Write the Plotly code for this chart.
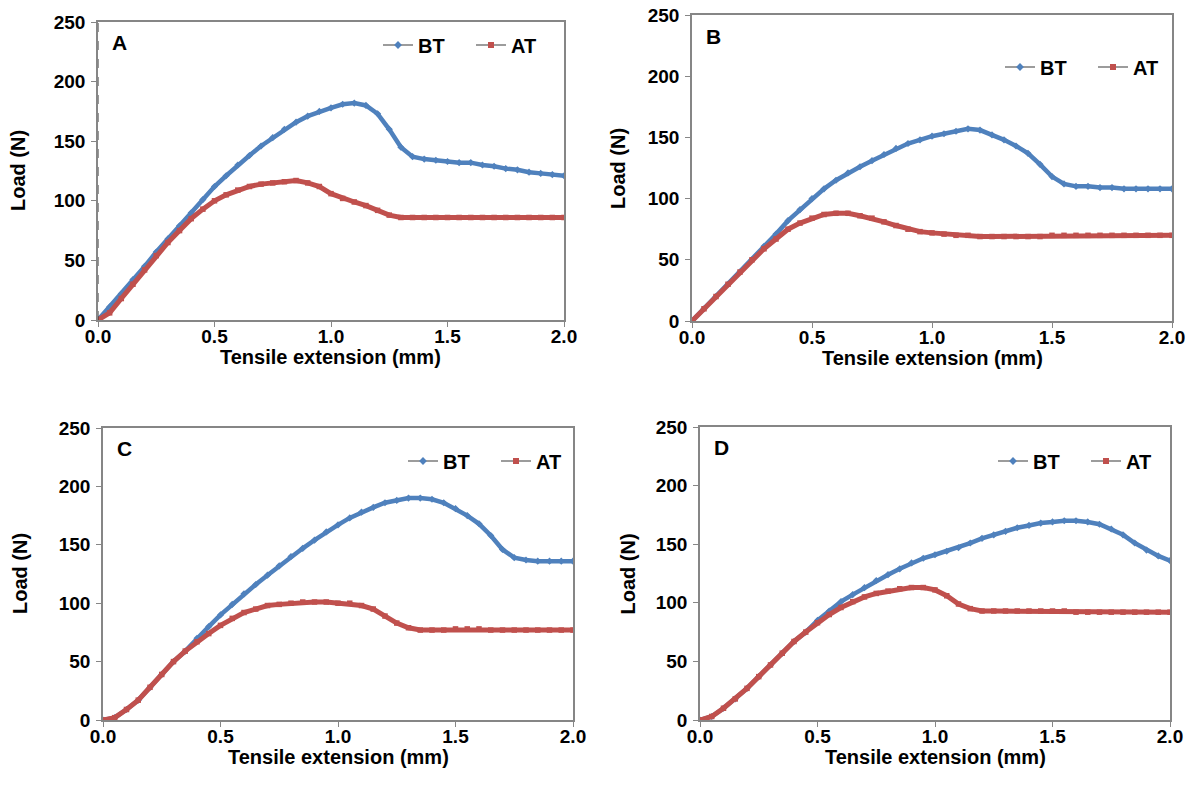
import plotly.graph_objects as go

# Tensile extension (mm) sampling
x_ext = [0.00, 0.05, 0.10, 0.15, 0.20, 0.25, 0.30, 0.35, 0.40, 0.45,
         0.50, 0.55, 0.60, 0.65, 0.70, 0.75, 0.80, 0.85, 0.90, 0.95,
         1.00, 1.05, 1.10, 1.15, 1.20, 1.25, 1.30, 1.35, 1.40, 1.45,
         1.50, 1.55, 1.60, 1.65, 1.70, 1.75, 1.80, 1.85, 1.90, 1.95, 2.00]

# Load (N)
A_BT = [0, 11, 22, 34, 45, 57, 68, 79, 90, 101,
        112, 121, 130, 138, 146, 153, 160, 166, 171, 175,
        178, 181, 182, 180, 173, 160, 145, 137, 135, 134,
        133, 132, 132, 130, 129, 127, 126, 124, 123, 122, 121]
A_AT = [0, 6, 18, 30, 42, 54, 65, 75, 85, 93,
        100, 105, 109, 112, 114, 115, 116, 117, 115, 112,
        106, 102, 99, 96, 92, 88, 86, 86, 86, 86,
        86, 86, 86, 86, 86, 86, 86, 86, 86, 86, 86]

B_BT = [0, 10, 20, 30, 40, 50, 61, 71, 82, 91,
        100, 108, 115, 121, 126, 131, 136, 141, 145, 148,
        151, 153, 155, 157, 156, 152, 148, 143, 137, 128,
        118, 112, 110, 110, 109, 109, 108, 108, 108, 108, 108]
B_AT = [0, 10, 20, 30, 40, 50, 59, 67, 75, 80,
        84, 87, 88, 88, 86, 84, 81, 78, 75, 73,
        72, 71, 70, 70, 69, 69, 69, 69, 69, 69,
        70, 70, 70, 70, 70, 70, 70, 70, 70, 70, 70]

C_BT = [0, 2, 9, 17, 28, 39, 50, 59, 70, 80,
        90, 99, 108, 116, 124, 132, 140, 147, 154, 161,
        167, 173, 178, 182, 186, 188, 190, 190, 189, 186,
        181, 175, 168, 158, 146, 139, 137, 136, 136, 136, 136]
C_AT = [0, 2, 9, 17, 28, 39, 50, 59, 67, 74,
        81, 87, 92, 95, 98, 99, 100, 101, 101, 101,
        100, 100, 98, 95, 89, 83, 79, 77, 77, 77,
        78, 78, 78, 77, 77, 77, 77, 77, 77, 77, 77]

D_BT = [0, 3, 10, 18, 27, 37, 47, 57, 67, 75,
        85, 93, 101, 107, 113, 119, 124, 129, 134, 138,
        141, 144, 147, 151, 155, 158, 161, 164, 166, 168,
        169, 170, 170, 169, 167, 163, 158, 151, 145, 140, 136]
D_AT = [0, 3, 10, 18, 27, 37, 47, 57, 67, 75,
        83, 90, 96, 101, 105, 108, 110, 112, 113, 113,
        111, 106, 99, 95, 93, 93, 93, 93, 93, 93,
        93, 93, 92, 92, 92, 92, 92, 92, 92, 92, 92]

panels = ["A", "B", "C", "D"]
series_names = ["BT", "AT"]
series = {"A": (A_BT, A_AT), "B": (B_BT, B_AT), "C": (C_BT, C_AT), "D": (D_BT, D_AT)}
x_ticks = [0.0, 0.5, 1.0, 1.5, 2.0]
x_tick_text = ["0.0", "0.5", "1.0", "1.5", "2.0"]
y_ticks = [0, 50, 100, 150, 200, 250]

W, H = 1192, 793
# plot-area pixel boxes: left, right, top, bottom
boxes = {"A": (98, 564, 22, 320), "B": (692, 1172, 15, 321),
         "C": (103, 573, 428, 720), "D": (700, 1170, 427, 720)}
legend_pos = {"A": (378, 45), "B": (1000, 67), "C": (403, 461), "D": (993, 461)}
ytitle_x = {"A": 18, "B": 618, "C": 20, "D": 627}


def fx(px):
    return px / W


def fy(py):
    return 1 - py / H


FONT = "Liberation Sans, Arial, sans-serif"
BLUE = "#4F81BD"
RED = "#C0504D"
AXC = "#868686"
styles = [dict(color=BLUE, width=4.5, symbol="diamond"),
          dict(color=RED, width=5, symbol="square")]

fig = go.Figure()
annotations = []
for i, p in enumerate(panels):
    n = "" if i == 0 else str(i + 1)
    l, r, t, b = boxes[p]
    leg = "legend" + n
    for name, vals, st in zip(series_names, series[p], styles):
        fig.add_trace(go.Scatter(x=x_ext, y=vals, name=name, mode="lines+markers",
                                 line=dict(color=st["color"], width=st["width"]),
                                 marker=dict(symbol=st["symbol"], size=5.5, color=st["color"]),
                                 xaxis="x" + n, yaxis="y" + n, showlegend=False))
    # legend entries (Excel style: thin dark line with coloured marker)
    for name, st in zip(series_names, styles):
        fig.add_trace(go.Scatter(x=[None], y=[None], name=name, mode="lines+markers",
                                 line=dict(color="#3a3a3a", width=1.2),
                                 marker=dict(symbol=st["symbol"], size=6, color=st["color"]),
                                 xaxis="x" + n, yaxis="y" + n, legend=leg))
    tf = dict(family=FONT, size=19, color="#000", weight="bold")
    ax = dict(domain=[fx(l), fx(r)], range=[0, 2], tickvals=x_ticks, ticktext=x_tick_text,
              showgrid=False, zeroline=False, showline=True, linecolor=AXC, linewidth=1.5,
              mirror=True, ticks="outside", ticklen=5, tickcolor=AXC, ticklabelstandoff=-7,
              tickfont=tf, automargin=False, ticklabeloverflow="allow", anchor="y" + n)
    ay = dict(domain=[fy(b), fy(t)], range=[0, 250], tickvals=y_ticks,
              showgrid=False, zeroline=False, showline=True, linecolor=AXC, linewidth=1.5,
              mirror=True, ticks="outside", ticklen=5, tickcolor=AXC, ticklabelstandoff=2,
              tickfont=tf, automargin=False, ticklabeloverflow="allow", anchor="x" + n)
    fig.update_layout(**{"xaxis" + n: ax, "yaxis" + n: ay})
    lx, ly = legend_pos[p]
    fig.update_layout(**{leg: dict(x=fx(lx), y=fy(ly), xanchor="left", yanchor="middle",
                                   orientation="h", bgcolor="rgba(0,0,0,0)",
                                   font=dict(family=FONT, size=20, color="#000", weight="bold"),
                                   itemwidth=30, tracegroupgap=0,
                                   entrywidth=48, entrywidthmode="pixels")})
    # panel letter
    annotations.append(dict(text="<b>%s</b>" % p, x=0.025, y=0.93, xref="x" + n + " domain",
                            yref="y" + n + " domain", xanchor="left", yanchor="middle",
                            showarrow=False, font=dict(family=FONT, size=21, color="#000")))
    # axis titles
    annotations.append(dict(text="<b>Tensile extension (mm)</b>", x=fx((l + r) / 2),
                            y=fy(b + 37), xref="paper", yref="paper",
                            xanchor="center", yanchor="middle", showarrow=False,
                            font=dict(family=FONT, size=20, color="#000")))
    annotations.append(dict(text="<b>Load (N)</b>", x=fx(ytitle_x[p]),
                            y=fy((t + b) / 2), xref="paper", yref="paper",
                            xanchor="center", yanchor="middle", showarrow=False, textangle=-90,
                            font=dict(family=FONT, size=20, color="#000")))

fig.add_shape(type="line", x0=0, x1=0, y0=0, y1=250, xref="x", yref="y",
              line=dict(color="#333333", width=1, dash="dash"))

fig.update_layout(width=W, height=H, margin=dict(l=0, r=0, t=0, b=0, autoexpand=False),
                  paper_bgcolor="white", plot_bgcolor="white", hovermode=False,
                  annotations=annotations, showlegend=True)
fig.write_html("out.html", config={"displayModeBar": False},
               post_script="document.body.style.margin='0';document.body.style.overflow='hidden';")
